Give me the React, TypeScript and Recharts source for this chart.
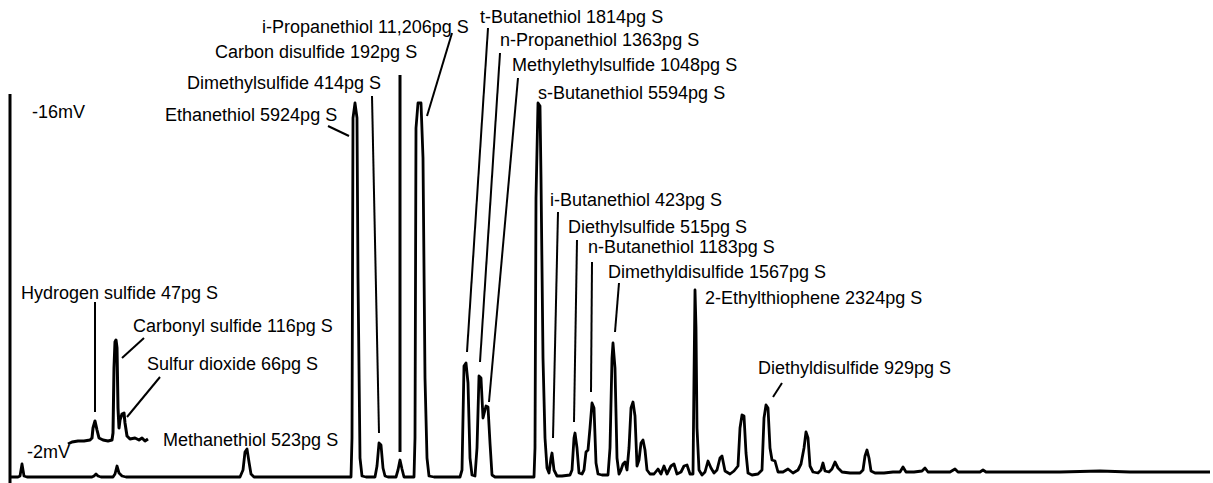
import React from 'react';
import { LineChart, Line, XAxis, YAxis, ReferenceLine, ReferenceDot } from 'recharts';

// Sulfur compound chromatogram. Time axis in arbitrary units, signal as detector response.

const compounds = [
    'Hydrogen sulfide', 'Carbonyl sulfide', 'Sulfur dioxide', 'Methanethiol',
    'Ethanethiol', 'Dimethylsulfide', 'Carbon disulfide', 'i-Propanethiol',
    't-Butanethiol', 'n-Propanethiol', 'Methylethylsulfide', 's-Butanethiol',
    'i-Butanethiol', 'Diethylsulfide', 'n-Butanethiol', 'Dimethyldisulfide',
    '2-Ethylthiophene', 'Diethyldisulfide'
];

const amounts = [
    47, 116, 66, 523,
    5924, 414, 192, 11206,
    1814, 1363, 1048, 5594,
    423, 515, 1183, 1567,
    2324, 929
];

const scaleLabels = ['-16mV', '-2mV'];

// main trace [time, signal]
const mainTrace: [number, number][] = [
    [11, 1], [18, 1], [20, 2], [22, 14], [24, 2], [27, 1], [60, 1], [92, 1], [94, 2], [96, 4], [98, 2], [101, 1],
    [113, 1], [115, 4], [117, 12], [119, 5], [122, 2], [126, 1], [180, 1], [240, 1], [243, 8], [245, 26], [247, 29],
    [249, 16], [251, 4], [254, 1], [300, 1], [351, 1], [352, 40], [353, 360], [355, 375], [357, 360], [358, 200],
    [360, 20], [362, 2], [366, 1], [375, 1], [377, 12], [379, 35], [381, 33], [383, 10], [385, 2], [388, 1],
    [396, 1], [398, 8], [400, 18], [402, 9], [404, 1], [414, 1], [415, 40], [416, 350], [418, 375], [421, 375],
    [423, 320], [425, 100], [427, 20], [429, 2], [434, 1], [460, 1], [462, 8], [464, 112], [466, 115], [468, 95],
    [470, 20], [472, 3], [475, 2], [477, 30], [479, 102], [481, 100], [483, 60], [484, 64], [486, 72], [488, 71],
    [490, 35], [492, 3], [495, 1], [534, 1], [535, 30], [536, 280], [538, 375], [540, 372], [541, 300], [543, 120],
    [545, 40], [547, 10], [549, 5], [551, 20], [552, 25], [554, 8], [557, 2], [562, 2], [570, 3], [572, 8],
    [574, 40], [575, 45], [577, 30], [579, 5], [582, 4], [584, 8], [586, 26], [588, 28], [590, 50], [592, 75],
    [594, 70], [596, 15], [598, 4], [602, 3], [608, 3], [610, 30], [612, 120], [613, 135], [615, 110], [617, 20],
    [619, 4], [621, 8], [623, 14], [625, 16], [627, 8], [629, 30], [631, 70], [633, 76], [635, 62], [637, 12],
    [639, 18], [641, 35], [643, 38], [645, 28], [647, 8], [650, 4], [654, 4], [658, 9], [661, 4], [664, 12],
    [667, 4], [671, 12], [674, 14], [677, 4], [681, 6], [684, 12], [687, 13], [690, 4], [693, 4], [694, 100],
    [695, 188], [696, 150], [697, 50], [699, 8], [702, 3], [705, 6], [708, 17], [711, 10], [714, 5], [717, 8],
    [720, 20], [722, 22], [725, 7], [730, 4], [734, 7], [738, 12], [740, 50], [742, 63], [744, 62], [746, 25],
    [748, 5], [752, 3], [758, 4], [762, 8], [764, 60], [766, 73], [768, 70], [770, 30], [772, 18], [775, 17],
    [778, 6], [783, 6], [788, 9], [793, 5], [798, 8], [801, 14], [804, 30], [806, 46], [808, 40], [810, 12],
    [813, 6], [818, 5], [821, 8], [823, 15], [825, 7], [829, 6], [832, 9], [835, 16], [838, 10], [842, 6],
    [850, 5], [860, 5], [863, 8], [865, 22], [867, 28], [869, 20], [871, 7], [875, 5], [884, 5], [893, 6],
    [900, 6], [903, 11], [906, 6], [914, 6], [922, 7], [925, 10], [928, 6], [940, 6], [950, 6], [955, 9],
    [958, 6], [970, 6], [980, 6], [983, 8], [986, 6], [1000, 6], [1030, 6], [1060, 6], [1100, 7], [1130, 6],
    [1160, 6], [1210, 6]
];

// expanded early part (-2mV range), drawn offset above the main trace
const insetTrace: [number, number][] = [
    [68, 34], [72, 36], [78, 37], [84, 37], [90, 38], [92, 40], [93, 50], [95, 57], [97, 48], [99, 40],
    [103, 38], [108, 37], [112, 38], [113, 45], [114, 110], [115, 136], [116, 138], [117, 130], [118, 70],
    [119, 50], [120, 58], [122, 64], [124, 65], [125, 55], [127, 42], [130, 39], [135, 40], [139, 38],
    [142, 40], [145, 37], [148, 39]
];

// annotation layout (not data): label anchor and leader segment per compound
const labelAt: [number, number][] = [
    [21, 185], [133, 152], [147, 114], [163, 38],
    [165, 363], [187, 395], [215, 426], [262, 451],
    [480, 461], [500, 438], [512, 413], [538, 385],
    [550, 278], [568, 251], [588, 231], [608, 206],
    [705, 180], [758, 110]
];

const leaders: ([number, number, number, number] | null)[] = [
    [95, 176, 95, 66], [144, 140, 122, 120], [160, 101, 127, 61], null,
    [328, 352, 349, 342], [372, 382, 379, 45], [400, 403, 400, 26], [452, 445, 427, 362],
    [488, 450, 467, 126], [500, 425, 480, 116], [518, 400, 489, 76], null,
    [558, 266, 553, 40], [577, 238, 574, 56], [592, 216, 591, 86], [619, 195, 615, 146],
    null, [782, 95, 773, 81]
];

const scaleLabelAt: [number, number][] = [[32, 366], [27, 26]];

const FONT = '"Liberation Sans", Arial, Helvetica, sans-serif';

const fmtAmount = (n: number) => (n >= 10000 ? n.toLocaleString('en-US') : String(n));

function textShape(txt: string) {
    return (p: any) => (
        <text x={p.cx} y={p.cy} dominantBaseline="central" fontFamily={FONT} fontSize={18} fill="#000">
            {txt}
        </text>
    );
}

export default function App() {
    const mainData = mainTrace.map(([t, s]) => ({ t, s }));
    const insetData = insetTrace.map(([t, s]) => ({ t, s }));

    return (
        <div style={{ position: 'absolute', left: 0, top: 0, background: '#fff' }}>
            <LineChart width={1213} height={483} margin={{ top: 0, right: 0, bottom: 0, left: 0 }}>
                <XAxis dataKey="t" type="number" domain={[0, 1213]} hide />
                <YAxis type="number" domain={[-5, 478]} hide />
                <ReferenceLine
                    segment={[{ x: 10, y: -5 }, { x: 10, y: 384 }]}
                    stroke="#000"
                    strokeWidth={3}
                    ifOverflow="visible"
                />
                <Line
                    data={mainData}
                    dataKey="s"
                    type="linear"
                    stroke="#000"
                    strokeWidth={2.8}
                    strokeLinejoin="round"
                    dot={false}
                    activeDot={false}
                    isAnimationActive={false}
                />
                <Line
                    data={insetData}
                    dataKey="s"
                    type="linear"
                    stroke="#000"
                    strokeWidth={3}
                    strokeLinejoin="round"
                    dot={false}
                    activeDot={false}
                    isAnimationActive={false}
                />
                {leaders.map((l, i) =>
                    l ? (
                        <ReferenceLine
                            key={'ld' + i}
                            segment={[{ x: l[0], y: l[1] }, { x: l[2], y: l[3] }]}
                            stroke="#000"
                            strokeWidth={compounds[i] === 'Carbon disulfide' ? 3 : 2}
                            ifOverflow="visible"
                        />
                    ) : null
                )}
                {compounds.map((name, i) => (
                    <ReferenceDot
                        key={'lb' + i}
                        x={labelAt[i][0]}
                        y={labelAt[i][1]}
                        r={0}
                        ifOverflow="visible"
                        shape={textShape(`${name} ${fmtAmount(amounts[i])}pg S`)}
                    />
                ))}
                {scaleLabels.map((txt, i) => (
                    <ReferenceDot
                        key={'sc' + i}
                        x={scaleLabelAt[i][0]}
                        y={scaleLabelAt[i][1]}
                        r={0}
                        ifOverflow="visible"
                        shape={textShape(txt)}
                    />
                ))}
            </LineChart>
        </div>
    );
}
